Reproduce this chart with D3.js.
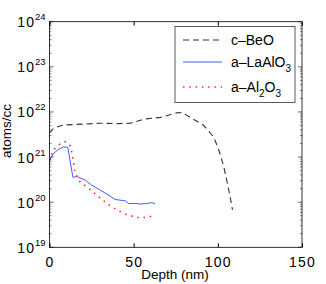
<!DOCTYPE html>
<html>
<head>
<meta charset="utf-8">
<script src="https://cdn.jsdelivr.net/npm/d3@7"></script>
<style>
body { margin: 0; background: #fff; }
text { font-family: "Liberation Sans", Arial, sans-serif; }
</style>
</head>
<body>
<svg id="chart" width="326" height="284"></svg>
<script>
// depth (nm), concentration (atoms/cc)
let beoDepth = [0, 2.4, 8.3, 20, 30, 40, 48, 56, 66, 75.6, 78.6, 84.5, 91.4, 97.4, 100.3, 103.3, 105.3, 107.3, 108.7];
let beoLog = [21.53, 21.64, 21.71, 21.73, 21.75, 21.74, 21.75, 21.84, 21.88, 21.98, 21.99, 21.86, 21.71, 21.45, 21.19, 20.82, 20.49, 20.12, 19.83];

let laDepth = [0, 2.4, 5.3, 8.3, 10.3, 10.9, 13.9, 16.2, 21.2, 25, 30, 35, 39, 45, 47, 52, 53.8, 57.8, 60.8, 62.7];
let laLog = [20.93, 21.08, 21.17, 21.22, 21.22, 21.21, 20.55, 20.57, 20.49, 20.38, 20.27, 20.16, 20.06, 20.03, 19.97, 19.97, 19.96, 19.97, 19.99, 19.96];

let alDepth = [0, 2.4, 6.3, 9.3, 11.3, 12.7, 13.9, 15.2, 18.2, 23, 28, 34, 40, 46, 52, 57.8, 60.8];
let alLog = [20.92, 21.16, 21.29, 21.34, 21.30, 21.22, 20.97, 20.64, 20.45, 20.31, 20.16, 19.97, 19.83, 19.72, 19.66, 19.66, 19.69];

let xTicks = [0, 50, 100, 150];
let yExps = [19, 20, 21, 22, 23, 24];

let series = [
    { name: "c\u2013BeO", depth: beoDepth, log: beoLog, color: "#333", dash: "6,4", width: 1.1 },
    { name: "a\u2013LaAlO", sub: "3", depth: laDepth, log: laLog, color: "#4060ff", dash: null, width: 1 },
    { name: "a\u2013Al", sub2: true, depth: alDepth, log: alLog, color: "#ff2a2a", dash: "1.5,4.8", width: 1.7 }
];

const pLeft = 49.5, pRight = 302, pTop = 21.7, pBottom = 247.3;
let svg = d3.select("#chart");

let x = d3.scaleLinear().domain([0, 150]).range([pLeft, pRight]);
let y = d3.scaleLog().domain([1e19, 1e24]).range([pBottom, pTop]);

// lines
svg.append("clipPath").attr("id", "clip")
    .append("rect").attr("x", pLeft).attr("y", pTop).attr("width", pRight - pLeft).attr("height", pBottom - pTop);

series.forEach(function(s) {
    let pts = s.depth.map((d, i) => [d, Math.pow(10, s.log[i])]);
    svg.append("path")
        .datum(pts)
        .attr("clip-path", "url(#clip)")
        .attr("fill", "none")
        .attr("stroke", s.color)
        .attr("stroke-width", s.width)
        .attr("stroke-dasharray", s.dash)
        .attr("d", d3.line().x(d => x(d[0])).y(d => y(d[1])));
});

// axes with inward ticks
let axisColor = "#000";
let gx = svg.append("g").attr("transform", `translate(0,${pBottom})`)
    .call(d3.axisBottom(x).tickValues(xTicks).tickSize(-4).tickPadding(10).tickFormat(d3.format("d")));
gx.select(".domain").remove();
gx.selectAll("text").style("font-size", "14px").style("letter-spacing", "1.2px").attr("fill", "#000");

let gxt = svg.append("g").attr("transform", `translate(0,${pTop})`)
    .call(d3.axisTop(x).tickValues(xTicks).tickSize(-4).tickFormat(""));
gxt.select(".domain").remove();

// minor ticks for log y
let minor = [];
for (let e = 19; e < 24; e++) for (let m = 2; m <= 9; m++) minor.push(m * Math.pow(10, e));
[[pLeft, 1], [pRight, -1]].forEach(function(side) {
    let g = svg.append("g");
    g.selectAll("line.maj").data(yExps).enter().append("line")
        .attr("x1", side[0]).attr("x2", side[0] + side[1] * 4)
        .attr("y1", d => y(Math.pow(10, d))).attr("y2", d => y(Math.pow(10, d)))
        .attr("stroke", axisColor).attr("stroke-width", 0.6);
    g.selectAll("line.min").data(minor).enter().append("line")
        .attr("x1", side[0]).attr("x2", side[0] + side[1] * 2)
        .attr("y1", d => y(d)).attr("y2", d => y(d))
        .attr("stroke", axisColor).attr("stroke-width", 0.5);
});

// y tick labels 10^n
yExps.forEach(function(e) {
    let t = svg.append("text")
        .attr("x", pLeft - 4).attr("y", y(Math.pow(10, e)) + 5.5)
        .attr("text-anchor", "end")
        .style("font-size", "14px");
    t.append("tspan").style("letter-spacing", "1px").text("10");
    t.append("tspan").attr("dy", -7).style("font-size", "9.5px").text(e);
});

// box
svg.append("rect").attr("x", pLeft).attr("y", pTop).attr("width", pRight - pLeft).attr("height", pBottom - pTop)
    .attr("fill", "none").attr("stroke", axisColor).attr("stroke-width", 0.8);

// axis labels
svg.append("text").attr("x", 175).attr("y", 279)
    .attr("text-anchor", "middle").style("font-size", "13.5px").text("Depth (nm)");
svg.append("text").attr("transform", "translate(10.5,131) rotate(-90)")
    .attr("text-anchor", "middle").style("font-size", "13.5px").text("atoms/cc");

// legend
let lg = svg.append("g");
lg.append("rect").attr("x", 175).attr("y", 26.5).attr("width", 120).attr("height", 76)
    .attr("fill", "#fff").attr("stroke", "#333").attr("stroke-width", 0.8);
let rows = [40, 62, 87];
series.forEach(function(s, i) {
    lg.append("line").attr("x1", 183).attr("x2", 222).attr("y1", rows[i]).attr("y2", rows[i])
        .attr("stroke", s.color).attr("stroke-width", s.width).attr("stroke-dasharray", s.dash);
    let t = lg.append("text").attr("x", 231).attr("y", rows[i] + 5).style("font-size", "14px");
    t.append("tspan").text(s.name);
    if (s.sub) {
        t.append("tspan").attr("dy", 5).style("font-size", "10px").text(s.sub);
    }
    if (s.sub2) {
        t.append("tspan").attr("dy", 5).style("font-size", "10px").text("2");
        t.append("tspan").attr("dy", -5).text("O");
        t.append("tspan").attr("dy", 5).style("font-size", "10px").text("3");
    }
});
</script>
</body>
</html>
